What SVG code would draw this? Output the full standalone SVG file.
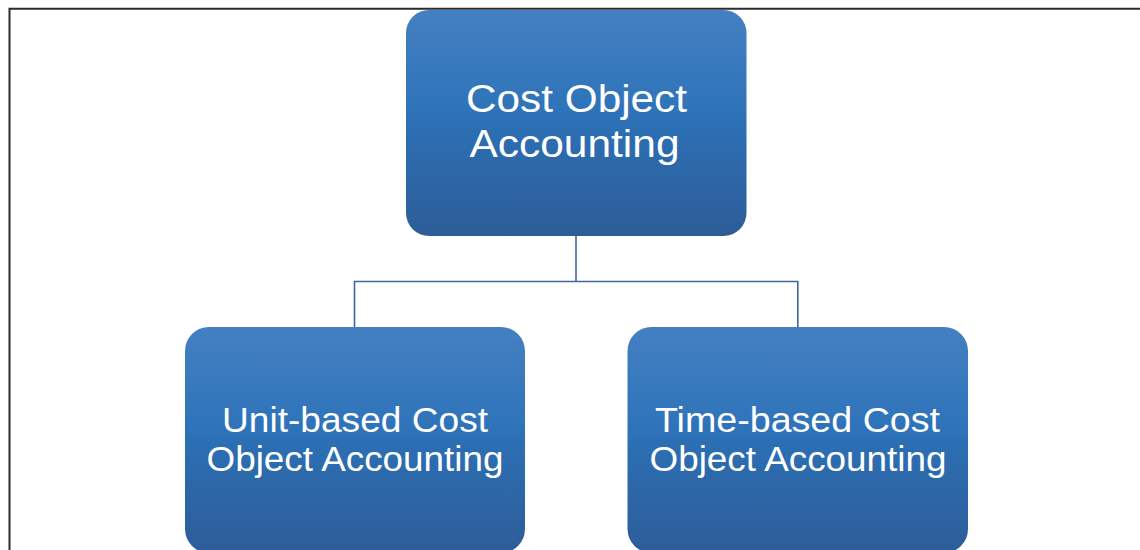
<svg xmlns="http://www.w3.org/2000/svg" width="1140" height="550" viewBox="0 0 1140 550">
  <defs>
    <linearGradient id="boxFill" x1="0" y1="0" x2="0" y2="1">
      <stop offset="0" stop-color="#4480c1"/>
      <stop offset="0.45" stop-color="#2e73ba"/>
      <stop offset="0.5" stop-color="#2c6fb4"/>
      <stop offset="1" stop-color="#2d5d98"/>
    </linearGradient>
  </defs>
  <style>
    .box { fill: url(#boxFill); }
    .label { font-family: "Liberation Sans", Arial, sans-serif; fill: #ffffff; text-anchor: middle; }
    .top { font-size: 38px; }
    .sub { font-size: 35px; }
    .link { fill: none; stroke: #3b67a0; stroke-width: 1.6; }
    .frame { fill: none; stroke: #2b2b2b; stroke-width: 2; }
  </style>

  <rect width="1140" height="550" fill="#ffffff"/>
  <path class="frame" d="M9.5,552 V8.7 H1142"/>

  <g id="connectors">
    <path class="link" d="M576,236 V281.5"/>
    <path class="link" d="M354.5,327 V281.5 H797.8 V327"/>
  </g>

  <g id="node-cost-object-accounting">
    <rect class="box" x="406" y="10" width="340.5" height="226" rx="23" ry="23"/>
    <text class="label top" x="576.5" y="112" textLength="221" lengthAdjust="spacingAndGlyphs">Cost Object</text>
    <text class="label top" x="574.5" y="157" textLength="210" lengthAdjust="spacingAndGlyphs">Accounting</text>
  </g>

  <g id="node-unit-based">
    <rect class="box" x="185" y="327" width="340" height="226" rx="24" ry="24"/>
    <text class="label sub" x="355" y="432" textLength="266" lengthAdjust="spacingAndGlyphs">Unit-based Cost</text>
    <text class="label sub" x="355" y="471" textLength="297" lengthAdjust="spacingAndGlyphs">Object Accounting</text>
  </g>

  <g id="node-time-based">
    <rect class="box" x="627.5" y="327" width="340.5" height="226" rx="24" ry="24"/>
    <text class="label sub" x="797.5" y="432" textLength="285" lengthAdjust="spacingAndGlyphs">Time-based Cost</text>
    <text class="label sub" x="798" y="471" textLength="297" lengthAdjust="spacingAndGlyphs">Object Accounting</text>
  </g>
</svg>
